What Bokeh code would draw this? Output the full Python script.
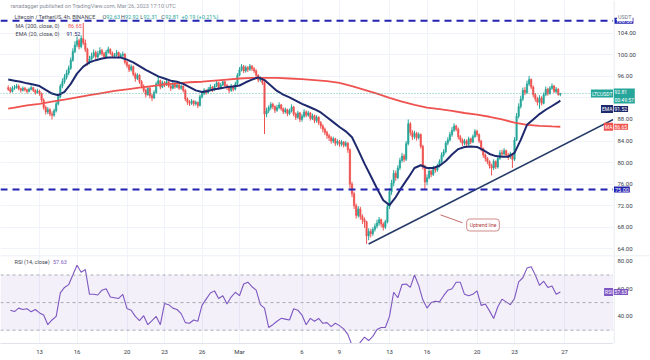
from bokeh.plotting import figure
from bokeh.layouts import column, row
from bokeh.models import (ColumnDataSource, Range1d, FixedTicker, Grid, Span,
                          BoxAnnotation, Label, Arrow)
from bokeh.core.properties import value
from bokeh.embed import file_html
from bokeh.resources import INLINE

# ---------------- data ----------------
# time axis: day number counted from Jan 31 (Feb d -> d, Mar d -> 28 + d)
start_day = 10.5          # first 4h candle: Feb 10 12:00 UTC
bar_hours = 4
first_open = 93.9

closes = [
    93.6, 93.2, 93.8,
    93.9, 94.2, 93.7, 93.4, 93.8, 93.5,
    93.2, 93.6, 93.9, 93.4, 93.0, 93.3,
    92.8, 91.6, 90.2, 89.4, 89.8, 89.0,
    88.8, 89.6, 90.9, 92.2, 94.2, 95.0,
    95.8, 96.6, 97.5, 99.0, 100.6, 101.8,
    102.6, 101.5, 103.0, 102.2, 101.0, 98.6,
    99.2, 99.8, 100.4, 99.6, 100.2, 100.8,
    100.2, 99.6, 100.5, 101.0, 100.3, 99.8,
    99.9, 100.4, 99.7, 99.9, 100.1, 98.6,
    98.0, 97.2, 97.8, 96.4, 95.6, 96.2,
    95.0, 94.2, 93.4, 92.6, 93.8, 92.4,
    92.0, 93.0, 94.6, 95.2, 94.0, 94.8,
    94.4, 95.0, 94.2, 93.8, 94.6, 94.0,
    94.4, 93.8, 94.2, 93.4, 91.8, 91.2,
    91.0, 91.4, 90.9, 91.2, 90.6, 92.2,
    92.8, 93.4, 93.0, 93.6, 94.0, 93.5,
    94.2, 94.8, 93.9, 94.4, 95.0, 94.3,
    94.0, 93.4, 94.2, 93.6, 94.6, 96.2,
    97.2, 97.8, 97.0, 97.6, 97.3, 97.9,
    97.4, 97.0, 96.2, 95.3, 95.6, 94.8,
    89.0, 89.6, 90.2, 90.8, 90.4, 89.7,
    90.2, 90.7, 90.0, 89.4, 89.8, 89.1,
    89.6, 90.3, 89.0, 88.4, 89.2, 88.0,
    88.6, 89.4, 88.8, 89.2, 88.2, 88.7,
    87.8, 88.4, 87.4, 86.8, 86.2, 85.6,
    85.0, 84.6, 84.0, 84.4, 83.6, 83.9,
    83.4, 83.8, 83.2, 83.6, 82.4, 76.0,
    74.2, 72.0, 70.2, 71.4, 70.0, 69.4,
    69.0, 66.4, 67.2, 66.8, 67.6, 68.2,
    68.8, 69.4, 68.6, 68.0, 69.0, 71.8,
    74.6, 76.2, 78.0, 77.2, 79.0, 80.4,
    81.2, 80.6, 83.5, 87.2, 85.6, 84.8,
    85.4, 84.6, 85.2, 83.0, 79.2, 76.4,
    77.2, 78.4, 77.8, 79.0, 78.6, 79.4,
    80.2, 81.4, 82.0, 83.6, 84.2, 85.2,
    86.0, 86.8, 86.2, 84.8, 84.2, 83.6,
    84.0, 83.4, 84.4, 83.8, 84.8, 85.8,
    85.2, 84.0, 82.6, 81.4, 80.8, 80.2,
    79.4, 79.0, 80.2, 79.2, 80.8, 81.8,
    81.6, 82.2, 81.4, 81.0, 81.6, 80.6,
    84.2, 88.6, 90.4, 91.8, 93.4, 93.0,
    94.6, 95.4, 94.0, 92.6, 91.8, 91.2,
    92.0, 91.0, 92.6, 93.6, 92.8, 93.8,
    94.2, 93.2, 93.6, 92.63, 92.81,
]

highs = [
    94.3, 94.0, 94.2,
    94.4, 94.6, 94.5, 93.9, 94.1, 94.0,
    93.7, 93.9, 94.3, 94.0, 93.6, 93.7,
    93.5, 93.0, 91.9, 90.6, 90.3, 90.1,
    89.5, 90.0, 91.3, 92.6, 94.6, 95.6,
    96.4, 97.2, 98.0, 99.5, 101.2, 102.5,
    103.4, 103.0, 103.6, 105.9, 102.8, 101.3,
    99.8, 100.4, 101.0, 100.8, 100.7, 101.4,
    101.1, 100.5, 100.9, 101.5, 101.2, 100.6,
    100.3, 100.9, 100.6, 100.3, 100.6, 100.3,
    98.9, 98.3, 98.2, 98.0, 96.7, 96.6,
    96.4, 95.3, 94.5, 93.7, 94.2, 94.0,
    92.8, 93.4, 95.0, 96.0, 95.4, 95.2,
    95.1, 95.5, 95.2, 94.5, 95.0, 94.8,
    94.8, 94.6, 94.5, 94.3, 93.6, 92.1,
    91.6, 91.8, 91.6, 91.5, 91.3, 92.6,
    93.2, 93.8, 93.6, 94.0, 94.5, 94.2,
    94.6, 95.2, 95.0, 94.8, 95.4, 95.2,
    94.6, 94.2, 94.6, 94.4, 95.0, 96.6,
    97.7, 98.3, 98.1, 98.0, 97.9, 98.3,
    98.1, 97.7, 97.3, 96.4, 96.0, 95.8,
    95.1, 90.2, 90.6, 91.2, 91.1, 90.6,
    90.7, 91.2, 90.9, 90.2, 90.2, 90.0,
    90.0, 90.8, 90.5, 89.3, 89.6, 89.4,
    89.0, 89.9, 89.7, 89.6, 89.4, 89.1,
    88.9, 88.8, 88.6, 87.7, 87.1, 86.5,
    85.9, 85.3, 84.9, 84.8, 84.6, 84.3,
    84.2, 84.2, 84.0, 84.0, 83.8, 82.6,
    76.4, 74.6, 72.4, 71.9, 71.8, 70.4,
    69.8, 69.2, 67.8, 67.7, 68.0, 68.7,
    69.4, 69.9, 69.6, 68.9, 69.4, 72.3,
    75.2, 76.8, 78.6, 78.5, 79.5, 80.9,
    81.8, 81.6, 84.0, 88.0, 87.5, 86.0,
    85.9, 85.7, 85.6, 85.4, 83.3, 79.6,
    77.8, 78.9, 78.7, 79.4, 79.3, 79.8,
    80.6, 81.9, 82.5, 84.0, 84.7, 85.7,
    86.6, 87.3, 87.0, 86.5, 85.1, 84.5,
    84.4, 84.3, 84.8, 84.6, 85.2, 86.2,
    86.1, 85.4, 84.2, 82.8, 81.7, 81.0,
    80.4, 79.8, 80.6, 80.4, 81.2, 82.3,
    82.4, 82.7, 82.4, 81.8, 82.0, 81.8,
    84.7, 89.2, 91.0, 92.4, 93.9, 94.0,
    95.2, 96.1, 95.6, 94.3, 92.9, 92.2,
    92.5, 92.3, 93.0, 94.1, 93.9, 94.2,
    94.7, 94.4, 94.0, 93.8, 92.92,
]

lows = [
    93.3, 92.9, 93.0,
    93.5, 93.7, 93.4, 93.0, 93.2, 93.2,
    92.8, 93.0, 93.4, 93.1, 92.6, 92.8,
    92.4, 91.2, 89.8, 88.9, 89.0, 88.6,
    88.0, 88.5, 89.3, 90.6, 91.9, 93.8,
    94.6, 95.4, 96.2, 97.2, 98.7, 100.3,
    101.4, 101.0, 101.2, 101.8, 100.5, 98.0,
    98.2, 98.9, 99.4, 99.1, 99.3, 99.9,
    99.8, 99.2, 99.4, 100.2, 100.0, 99.4,
    99.4, 99.7, 99.3, 99.4, 99.6, 98.2,
    97.6, 96.8, 96.9, 96.0, 95.0, 95.3,
    94.6, 93.8, 93.0, 92.1, 92.4, 91.9,
    91.4, 91.8, 92.8, 94.3, 93.6, 93.8,
    94.0, 94.2, 93.9, 93.3, 93.6, 93.7,
    93.8, 93.5, 93.5, 93.0, 91.4, 90.7,
    90.5, 90.7, 90.5, 90.6, 90.1, 90.4,
    91.9, 92.5, 92.6, 92.8, 93.4, 93.1,
    93.3, 94.0, 93.5, 93.6, 94.2, 93.9,
    93.5, 92.9, 93.1, 93.2, 93.4, 94.4,
    96.0, 96.9, 96.6, 96.7, 96.8, 97.0,
    97.0, 96.6, 95.8, 94.9, 95.0, 94.4,
    85.3, 88.4, 89.2, 89.8, 89.9, 89.2,
    89.4, 89.9, 89.6, 89.0, 89.1, 88.6,
    88.8, 89.3, 88.6, 87.9, 88.1, 87.5,
    87.6, 88.3, 88.4, 88.5, 87.8, 87.9,
    87.3, 87.4, 87.0, 86.3, 85.6, 85.1,
    84.4, 84.0, 83.5, 83.6, 83.1, 83.2,
    82.9, 83.0, 82.8, 82.9, 81.8, 75.2,
    73.6, 71.4, 69.6, 69.8, 69.4, 68.6,
    67.9, 64.9, 65.6, 66.1, 66.4, 67.2,
    67.8, 68.3, 68.0, 67.4, 67.7, 68.7,
    71.4, 74.0, 75.6, 76.6, 76.9, 78.6,
    80.0, 80.1, 80.3, 83.2, 85.0, 84.2,
    84.4, 84.1, 84.3, 82.6, 78.7, 75.1,
    75.8, 76.9, 77.3, 77.5, 78.1, 78.3,
    79.1, 79.9, 81.0, 81.7, 83.2, 83.9,
    84.8, 85.7, 85.8, 84.3, 83.7, 83.1,
    83.2, 83.0, 83.1, 83.4, 83.6, 84.6,
    84.8, 83.6, 82.1, 80.9, 80.2, 79.7,
    78.9, 77.6, 78.6, 78.8, 78.9, 80.5,
    81.1, 81.3, 81.0, 80.5, 80.7, 79.0,
    80.3, 84.0, 88.2, 90.0, 91.4, 92.5,
    92.7, 94.2, 93.6, 92.1, 91.3, 90.6,
    90.0, 90.6, 90.8, 92.3, 92.4, 92.6,
    93.5, 92.9, 92.9, 92.4, 92.31,
]

# EMA(20) read every 12h from Feb 10 12:00, last value at the final bar
ema_start = 10.5
ema_step = 0.5
ema_vals = [
    95.4, 95.2, 95.0, 94.7, 94.5, 94.2, 93.5, 92.8, 92.5, 93.1,
    94.6, 96.5, 97.8, 98.6, 99.0, 99.3, 99.5, 99.5, 99.5, 99.1,
    98.6, 97.9, 97.2, 96.6, 96.0, 95.6, 95.2, 95.0, 94.6, 94.0,
    93.4, 93.1, 93.3, 93.6, 93.8, 94.0, 94.1, 94.3, 94.9, 95.4,
    95.8, 95.3, 94.3, 93.3, 92.6, 92.1, 91.5, 90.9, 90.4, 89.9,
    89.3, 88.4, 87.5, 86.6, 85.8, 84.7, 82.3, 79.8, 77.5, 75.2,
    73.0, 72.1, 73.6, 75.5, 77.2, 79.0, 79.5, 79.0, 79.0, 79.4,
    80.3, 81.5, 82.5, 82.9, 83.0, 82.9, 82.3, 81.6, 81.2, 81.1,
    81.1, 81.8, 84.2, 87.0, 88.0, 89.0, 89.8, 90.5, 91.2,
]
ema_last = 91.52

# MA(200) read daily (Feb 11 .. Mar 26 00:00), plus first and last bar
ma_first = 90.0
ma_daily = [
    90.2, 90.6, 90.9, 91.3, 91.7, 92.1, 92.5, 92.9, 93.3, 93.6,
    93.9, 94.2, 94.5, 94.7, 94.9, 95.0, 95.2, 95.4, 95.6, 95.7,
    95.7, 95.7, 95.6, 95.5, 95.3, 95.1, 94.8, 94.2, 93.5, 92.8,
    92.0, 91.3, 90.7, 90.2, 89.9, 89.6, 89.2, 88.9, 88.5, 88.0,
    87.4, 87.0, 86.8, 86.7,
]
ma_last = 86.65

# RSI(14) read every 8h from Feb 10 16:00
rsi_start = 10.0 + 16 / 24
rsi_step = 8 / 24
rsi_vals = [
    44.5, 43.5, 46.0, 45.0, 45.5, 43.3, 45.0, 42.5, 41.0, 34.0,
    37.4, 40.0, 57.0, 61.0, 63.0, 70.0, 77.0, 72.0, 74.0, 56.0,
    56.0, 55.5, 59.0, 60.0, 54.0, 53.5, 53.0, 56.0, 45.7, 44.5,
    40.0, 37.0, 40.5, 34.0, 37.0, 40.0, 34.0, 49.3, 48.5, 46.0,
    45.0, 42.0, 35.5, 35.0, 37.4, 36.5, 48.0, 52.5, 57.0, 58.5,
    53.0, 55.0, 49.0, 54.0, 57.5, 55.0, 63.5, 64.8, 61.5, 59.0,
    48.5, 46.0, 32.0, 34.0, 36.5, 38.6, 38.0, 37.4, 45.5, 44.5,
    41.0, 34.0, 38.6, 36.5, 38.5, 35.0, 35.5, 32.6, 35.0, 33.3,
    31.0, 27.0, 19.0, 17.0, 21.3, 25.0, 22.5, 25.5, 30.5, 32.0,
    32.0, 40.0, 57.5, 53.5, 63.0, 63.5, 61.0, 70.0, 62.5, 52.0,
    46.0, 50.0, 51.0, 50.5, 55.0, 59.0, 60.0, 64.7, 64.7, 56.0,
    55.0, 56.0, 58.5, 48.0, 49.0, 44.0, 38.5, 47.0, 52.5, 50.5,
    48.5, 53.0, 65.0, 68.0, 75.0, 76.0, 70.0, 62.5, 65.5, 61.0,
    62.0, 56.0, 57.63,
]

# drawn levels
resistance = 106.3
support = 75.0
trend_t = [39.33, 58.92]
trend_p = [64.9, 88.0]

# axis ticks
x_ticks = [13, 16, 20, 23, 26, 29, 34, 37, 41, 44, 48, 51, 55]
x_labels = ["13", "16", "20", "23", "26", "Mar", "6", "9", "13", "16", "20", "23", "27"]
price_ticks = [64, 68, 72, 76, 80, 84, 88, 92, 96, 100, 104]
rsi_ticks = [40, 60, 80]

# ---------------- derived ----------------
n = len(closes)
t = [start_day + i * bar_hours / 24 for i in range(n)]
opens = [first_open] + closes[:-1]
UP, DOWN = "#26a69a", "#ef5350"
src = ColumnDataSource(dict(
    t=t, open=opens, high=highs, low=lows, close=closes,
    top=[max(o, c) for o, c in zip(opens, closes)],
    bottom=[min(o, c) for o, c in zip(opens, closes)],
    color=[UP if c >= o else DOWN for o, c in zip(opens, closes)],
))
ema_t = [ema_start + i * ema_step for i in range(len(ema_vals))] + [t[-1]]
ema_v = ema_vals + [ema_last]
ma_t = [start_day] + [11 + i for i in range(len(ma_daily))] + [t[-1]]
ma_v = [ma_first] + ma_daily + [ma_last]
rsi_t = [rsi_start + i * rsi_step for i in range(len(rsi_vals))]

FONT = "Roboto"
GRID = "#f0f3fa"
TXT = "#434651"
SCALE_TXT = "#3a3e4a"
XR = Range1d(9.88, 58.92)
EDGE = 58.92
NAVY = "#1f2a6e"
LINE_BLUE = "#2323b0"
PURPLE = "#7e57c2"
TOTAL_W = 650
SCALE_W = 37
MAIN_H = 255
RSI_H = 105


def common(fig):
    fig.background_fill_color = "white"
    fig.border_fill_color = "white"
    fig.outline_line_color = None
    fig.min_border_left = 0
    fig.min_border_right = 0
    fig.min_border_top = 0


def lab(fig, x, y, text, color=TXT, bg=None, align="left", size="5.5px",
        baseline="middle", **kw):
    extra = {}
    if bg is not None:
        extra = dict(background_fill_color=bg, background_fill_alpha=1.0)
    lb = Label(x=x, y=y, text=text, text_color=color, text_align=align,
               text_baseline=baseline, text_font_size=size, text_font=FONT, **extra, **kw)
    fig.add_layout(lb)
    return lb


# ---------------- main pane ----------------
p1 = figure(width=TOTAL_W - SCALE_W, height=MAIN_H, x_range=XR, y_range=Range1d(62.76, 110.07),
            x_axis_type=None, y_axis_type=None,
            output_backend="svg", toolbar_location=None, min_border_bottom=0)
common(p1)
p1.add_layout(Grid(dimension=0, ticker=FixedTicker(ticks=x_ticks), grid_line_color=GRID))
p1.add_layout(Grid(dimension=1, ticker=FixedTicker(ticks=price_ticks), grid_line_color=GRID))

p1.add_layout(Span(location=closes[-1], dimension="width", line_color=UP,
                   line_alpha=0.7, line_dash="1 2", line_width=1))

p1.segment(x0="t", y0="low", x1="t", y1="high", color="color", line_width=1, source=src)
p1.vbar(x="t", width=0.11, top="top", bottom="bottom", fill_color="color",
        line_color="color", line_width=0.6, source=src)

p1.line(ma_t, ma_v, line_color="#ef5350", line_width=1.8)
p1.line(ema_t, ema_v, line_color=NAVY, line_width=2)
p1.line(trend_t, trend_p, line_color="#243a66", line_width=1.6)

for lv in (resistance, support):
    p1.add_layout(Span(location=lv, dimension="width", line_color=LINE_BLUE,
                       line_width=2, line_dash="7 5"))

# header & legends
lab(p1, 10.68, 109.14, "ranadagger published on TradingView.com, Mar 26, 2023 17:10 UTC",
    color="#8a8e99")
lab(p1, 11.0, 106.96, "Litecoin / TetherUS, 4h, BINANCE")
for letter, xl, val, xv in (("O", 18.04, "92.63", 18.34), ("H", 19.52, "92.92", 19.83),
                            ("L", 21.06, "92.31", 21.32), ("C", 22.74, "92.81", 23.05)):
    lab(p1, xl, 106.96, letter)
    lab(p1, xv, 106.96, val, color=UP)
lab(p1, 24.36, 106.96, "+0.19 (+0.21%)", color=UP)
lab(p1, 11.08, 105.43, "MA (200, close, 0)")
lab(p1, 15.28, 105.43, "86.65", color="#ef5350")
lab(p1, 11.08, 103.89, "EMA (20, close, 0)")
lab(p1, 15.16, 103.89, "91.52", color=NAVY)

# callout
p1.add_layout(Arrow(end=None, x_start=45.08, y_start=70.3, x_end=46.84, y_end=68.83,
                    line_color="#c46a6a", line_width=1))
lab(p1, 48.48, 68.42, "Uptrend line", color="#b23a3a", bg="white", align="center",
    size="5px", border_line_color="#d08a8a", border_line_width=1, border_radius=3, padding=3)

# series tags at the right edge of the pane
lab(p1, EDGE, closes[-1], "LTCUSDT", color="white", bg=UP, align="right", size="5px", padding=1)
lab(p1, EDGE, 89.95, "EMA", color="white", bg=NAVY, align="right", size="5px", padding=1)
lab(p1, EDGE, ma_last, "MA", color="white", bg="#ef5350", align="right", size="5px", padding=1)

# ---------------- main price scale ----------------
a1 = figure(width=SCALE_W, height=MAIN_H, x_range=Range1d(0, SCALE_W), y_range=p1.y_range,
            x_axis_type=None, y_axis_type=None, output_backend="svg",
            toolbar_location=None, min_border_bottom=0)
common(a1)
a1.add_layout(Span(location=0.5, dimension="height", line_color="#e0e3eb", line_width=1))
a1.text(x=[4] * len(price_ticks), y=price_ticks, text=[f"{v:.2f}" for v in price_ticks],
        text_font=value(FONT), text_font_size=value("6px"), text_color=SCALE_TXT,
        text_baseline="middle", text_align="left")
lab(a1, 1, resistance, "106.30", color="white", bg=LINE_BLUE, size="5.5px", padding=1)
lab(a1, 3.5, 106.96, "USDT", color="#787b86", bg="white", size="5.5px", padding=1)
lab(a1, 0, 92.35, "92.81\n00:49:57", color="white", bg=UP, size="5px", padding=1)
lab(a1, 0, 89.95, "91.52", color="white", bg=NAVY, size="5px", padding=1)
lab(a1, 0, ma_last, "86.65", color="white", bg="#ef5350", size="5px", padding=1)
lab(a1, 0.5, support, "75.00", color="white", bg=LINE_BLUE, size="5.5px", padding=1)

# ---------------- RSI pane ----------------
p2 = figure(width=TOTAL_W - SCALE_W, height=RSI_H, x_range=XR, y_range=Range1d(20.36, 84.13),
            y_axis_type=None, output_backend="svg", toolbar_location=None,
            min_border_bottom=17)
common(p2)
p2.xaxis.ticker = FixedTicker(ticks=x_ticks)
p2.xaxis.major_label_overrides = {k: v for k, v in zip(x_ticks, x_labels)}
p2.xaxis.major_label_text_font_size = "6px"
p2.xaxis.major_label_text_font = FONT
p2.xaxis.major_label_text_color = SCALE_TXT
p2.xaxis.major_tick_line_color = None
p2.xaxis.minor_tick_line_color = None
p2.xaxis.major_tick_out = 0
p2.xaxis.major_tick_in = 0
p2.xaxis.minor_tick_out = 0
p2.xaxis.axis_line_color = "#e0e3eb"
p2.xaxis.major_label_standoff = 4
p2.xgrid.ticker = FixedTicker(ticks=x_ticks)
p2.xgrid.grid_line_color = GRID

p2.add_layout(Span(location=84.0, dimension="width", line_color="#e0e3eb", line_width=1))
p2.add_layout(BoxAnnotation(bottom=30, top=70, fill_color=PURPLE, fill_alpha=0.09,
                            line_color=None))
for lv in (70, 50, 30):
    p2.add_layout(Span(location=lv, dimension="width", line_color="#9598a1",
                       line_width=0.8, line_dash="3 3"))
p2.line(rsi_t, rsi_vals, line_color=PURPLE, line_width=1.1)

lab(p2, 11.0, 79.06, "RSI (14, close)")
lab(p2, 14.08, 79.06, "57.63", color=PURPLE)
lab(p2, EDGE, rsi_vals[-1], "RSI", color="white", bg=PURPLE, align="right", size="5px", padding=1)

# ---------------- RSI scale ----------------
a2 = figure(width=SCALE_W, height=RSI_H, x_range=Range1d(0, SCALE_W), y_range=p2.y_range,
            x_axis_type=None, y_axis_type=None, output_backend="svg",
            toolbar_location=None, min_border_bottom=17)
common(a2)
a2.add_layout(Span(location=0.5, dimension="height", line_color="#e0e3eb", line_width=1))
a2.add_layout(Span(location=84.0, dimension="width", line_color="#e0e3eb", line_width=1))
a2.text(x=[4] * len(rsi_ticks), y=rsi_ticks, text=[f"{v:.2f}" for v in rsi_ticks],
        text_font=value(FONT), text_font_size=value("6px"), text_color=SCALE_TXT,
        text_baseline="middle", text_align="left")
lab(a2, 0, rsi_vals[-1], "57.63", color="white", bg=PURPLE, size="5px", padding=1)

layout = column(row(p1, a1), row(p2, a2))
open("out.html", "w").write(file_html(layout, INLINE))
